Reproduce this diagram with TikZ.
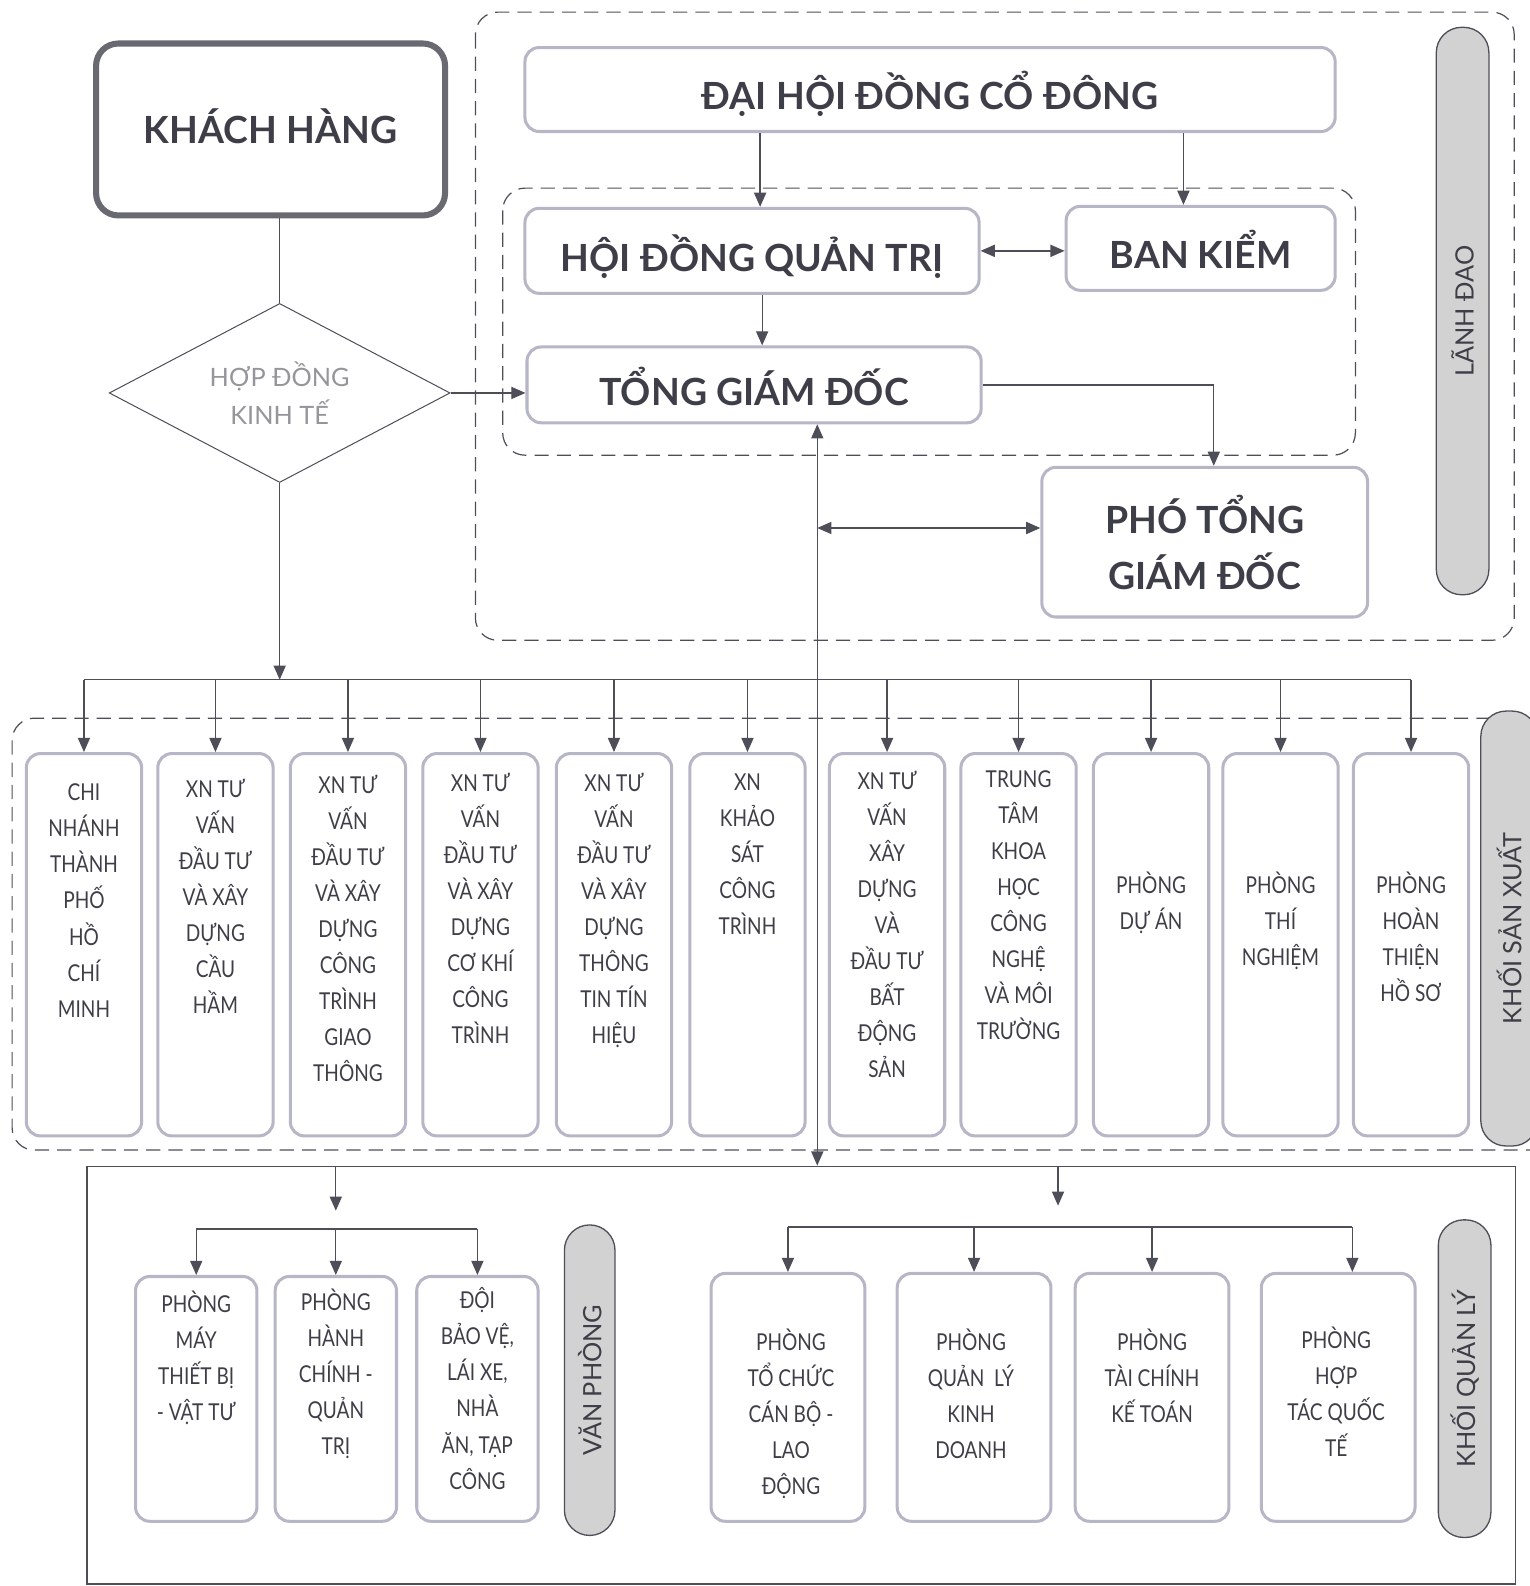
\documentclass[tikz,border=0pt]{standalone}
\usepackage{fontspec}
\setmainfont{Lato}
\newfontfamily\hepfont[FakeStretch=0.82]{Lato}
\usetikzlibrary{shapes,arrows.meta,positioning,calc,backgrounds,fit}
\definecolor{chu}{HTML}{3E3E48}
\definecolor{vien}{HTML}{B6B6C6}
\definecolor{net}{HTML}{4E4E58}

\begin{document}
\begin{tikzpicture}[x=1pt,y=-1pt]
  \tikzstyle{khung}=[rectangle, draw=vien, line width=3pt, rounded corners=14pt, inner sep=0pt]
  \tikzstyle{lon}=[khung, font=\fontsize{37}{55}\selectfont\bfseries, text=chu, align=center]
  \tikzstyle{motdong}=[text height=40pt, text depth=0pt]
  \tikzstyle{khach}=[lon, draw=net!85, line width=6pt, rounded corners=22pt, text height=28pt, text depth=0pt]
  \tikzstyle{hd}=[diamond, draw=net, line width=1pt, aspect=1.9, minimum width=337pt, minimum height=177pt, inner sep=0pt, align=center, text=chu!55, font=\fontsize{25}{38}\selectfont]
  \tikzstyle{dv}=[khung, minimum width=114pt, minimum height=378pt]
  \tikzstyle{vp}=[khung, minimum width=120pt, minimum height=242pt]
  \tikzstyle{ql}=[khung, minimum width=152pt, minimum height=245pt]
  \tikzstyle{nhan}=[anchor=north, inner sep=0pt, align=center, text=chu, font=\hepfont\fontsize{23}{35.6}\selectfont]
  \tikzstyle{thanh}=[rectangle, draw=net, fill=gray!35, line width=1.3pt, rounded corners=25pt, minimum height=52pt, inner sep=0pt, text=chu, font=\fontsize{25}{25}\selectfont]
  \tikzstyle{vung}=[draw=net, line width=1.2pt, dash pattern=on 14pt off 8pt, rounded corners=22pt]
  \tikzstyle{noi}=[draw=net, line width=1.3pt]
  \tikzstyle{ten}=[noi, -{Triangle[length=14pt,width=12pt]}]
  \tikzstyle{haiten}=[noi, {Triangle[length=14pt,width=12pt]}-{Triangle[length=14pt,width=12pt]}]

  \useasboundingbox (0,0) rectangle (1512,1568);

  % Khach hang
  \node[khach, minimum width=345pt, minimum height=170pt] (kh) at (267.5,128) {KHÁCH HÀNG};
  \node[hd] (hd) at (276.5,388.5) {HỢP ĐỒNG\\KINH TẾ};

  % Lanh dao
  \draw[vung] (470,12) rectangle (1497,633);
  \draw[vung] (497,186) rectangle (1340,450);
  \node[lon, motdong, minimum width=801pt, minimum height=83pt] (dh) at (919.5,88.5) {ĐẠI HỘI ĐỒNG CỔ ĐÔNG};
  \node[lon, motdong, minimum width=449pt, minimum height=84pt] (qt) at (743.5,248) {HỘI ĐỒNG QUẢN TRỊ};
  \node[lon, motdong, minimum width=266pt, minimum height=83pt] (bk) at (1187,245.5) {BAN KIỂM};
  \node[lon, motdong, minimum width=449pt, minimum height=75pt] (tgd) at (745.5,380.5) {TỔNG GIÁM ĐỐC};
  \node[lon, minimum width=322pt, minimum height=148pt] (ptgd) at (1191,536) {PHÓ TỔNG\\GIÁM ĐỐC};
  \node[thanh, rotate=90, minimum width=561pt] (ld) at (1446,307.5) {LÃNH ĐAO};

  % Khoi san xuat
  \draw[vung] (12,710) rectangle (1540,1137);
  \node[thanh, rotate=90, minimum width=430pt, minimum height=56pt] (sx) at (1492,918) {KHỐI SẢN XUẤT};
  \node[dv] (s1) at (83,934) {};
  \node[dv] (s2) at (213,934) {};
  \node[dv] (s3) at (344,934) {};
  \node[dv] (s4) at (475,934) {};
  \node[dv] (s5) at (607,934) {};
  \node[dv] (s6) at (739,934) {};
  \node[dv] (s7) at (877,934) {};
  \node[dv] (s8) at (1007,934) {};
  \node[dv] (s9) at (1138,934) {};
  \node[dv] (s10) at (1266,934) {};
  \node[dv] (s11) at (1395,934) {};
  \node[nhan] (n1) at (83,775) {CHI\\NHÁNH\\THÀNH\\PHỐ\\HỒ\\CHÍ\\MINH};
  \node[nhan] (n2) at (213,770) {XN TƯ\\VẤN\\ĐẦU TƯ\\VÀ XÂY\\DỰNG\\CẦU\\HẦM};
  \node[nhan] (n3) at (344,766) {XN TƯ\\VẤN\\ĐẦU TƯ\\VÀ XÂY\\DỰNG\\CÔNG\\TRÌNH\\GIAO\\THÔNG};
  \node[nhan] (n4) at (475,764) {XN TƯ\\VẤN\\ĐẦU TƯ\\VÀ XÂY\\DỰNG\\CƠ KHÍ\\CÔNG\\TRÌNH};
  \node[nhan] (n5) at (607,764) {XN TƯ\\VẤN\\ĐẦU TƯ\\VÀ XÂY\\DỰNG\\THÔNG\\TIN TÍN\\HIỆU};
  \node[nhan] (n6) at (739,765) {XN\\KHẢO\\SÁT\\CÔNG\\TRÌNH};
  \node[nhan] (n7) at (877,762) {XN TƯ\\VẤN\\XÂY\\DỰNG\\VÀ\\ĐẦU TƯ\\BẤT\\ĐỘNG\\SẢN};
  \node[nhan] (n8) at (1007,762) {TRUNG\\TÂM\\KHOA\\HỌC\\CÔNG\\NGHỆ\\VÀ MÔI\\TRƯỜNG};
  \node[nhan] (n9) at (1138,862) {PHÒNG\\DỰ ÁN};
  \node[nhan] (n10) at (1266,862) {PHÒNG\\THÍ\\NGHIỆM};
  \node[nhan] (n11) at (1395,862) {PHÒNG\\HOÀN\\THIỆN\\HỒ SƠ};

  % Khoi van phong va quan ly
  \node[draw=net, line width=1.3pt, minimum width=1412pt, minimum height=413pt, inner sep=0pt] (duoi) at (792,1359.5) {};
  \node[thanh, rotate=90, minimum width=307pt, minimum height=50pt] (vpt) at (583,1364.5) {VĂN PHÒNG};
  \node[vp] (v1) at (194,1383) {};
  \node[vp] (v2) at (332,1383) {};
  \node[vp] (v3) at (472,1383) {};
  \node[nhan] (m1) at (194,1276) {PHÒNG\\MÁY\\THIẾT BỊ\\- VẬT TƯ};
  \node[nhan] (m2) at (332,1274) {PHÒNG\\HÀNH\\CHÍNH -\\QUẢN\\TRỊ};
  \node[nhan] (m3) at (472,1273) {ĐỘI\\BẢO VỆ,\\LÁI XE,\\NHÀ\\ĂN, TẠP\\CÔNG};
  \node[thanh, rotate=90, minimum width=314pt] (qlt) at (1448,1363) {KHỐI QUẢN LÝ};
  \node[ql] (q1) at (779,1381.5) {};
  \node[ql] (q2) at (963,1381.5) {};
  \node[ql] (q3) at (1139,1381.5) {};
  \node[ql] (q4) at (1323,1381.5) {};
  \node[nhan] (p1) at (782,1314) {PHÒNG\\TỔ CHỨC\\CÁN BỘ -\\LAO\\ĐỘNG};
  \node[nhan] (p2) at (960,1314) {PHÒNG\\QUẢN \ LÝ\\KINH\\DOANH};
  \node[nhan] (p3) at (1139,1314) {PHÒNG\\TÀI CHÍNH\\KẾ TOÁN};
  \node[nhan] (p4) at (1321,1312) {PHÒNG\\HỢP\\TÁC QUỐC\\TẾ};

  % Diem phu
  \coordinate (truc) at (808,0);
  \coordinate (ngang) at (0,522);
  \coordinate (bus) at (0,672);
  \coordinate (vpvao) at (332,1197);
  \coordinate (vpbus) at (0,1215);
  \coordinate (qlvao) at (1046,1192);
  \coordinate (qlbus) at (0,1213);

  % Ket noi lanh dao
  \draw[noi] (hd.north |- kh.south) -- (hd.north);
  \draw[ten] (hd.east) -- (hd.east -| tgd.west);
  \draw[ten] ([xshift=8pt]qt.north |- dh.south) -- ([xshift=8pt]qt.north);
  \draw[ten] ([xshift=-17pt]bk.north |- dh.south) -- ([xshift=-17pt]bk.north);
  \draw[haiten] (qt.east) -- (qt.east -| bk.west);
  \draw[ten] ([xshift=10pt]qt.south) -- ([xshift=10pt]qt.south |- tgd.north);
  \draw[ten] (tgd.east) -| ([xshift=9pt]ptgd.north);
  \draw[haiten] (truc |- tgd.south) -- (truc |- duoi.north);
  \draw[haiten] (truc |- ngang) -- (ngang -| ptgd.west);

  % Ket noi san xuat
  \draw[ten] (hd.south) -- (hd.south |- bus);
  \draw[noi] (s1.north |- bus) -- (s11.north |- bus);
  \draw[ten] (s1.north |- bus) -- (s1.north);
  \draw[ten] (s2.north |- bus) -- (s2.north);
  \draw[ten] (s3.north |- bus) -- (s3.north);
  \draw[ten] (s4.north |- bus) -- (s4.north);
  \draw[ten] (s5.north |- bus) -- (s5.north);
  \draw[ten] (s6.north |- bus) -- (s6.north);
  \draw[ten] (s7.north |- bus) -- (s7.north);
  \draw[ten] (s8.north |- bus) -- (s8.north);
  \draw[ten] (s9.north |- bus) -- (s9.north);
  \draw[ten] (s10.north |- bus) -- (s10.north);
  \draw[ten] (s11.north |- bus) -- (s11.north);

  % Ket noi van phong
  \draw[ten] (vpvao |- duoi.north) -- (vpvao);
  \draw[noi] (v1.north |- vpbus) -- (v3.north |- vpbus);
  \draw[ten] (v1.north |- vpbus) -- (v1.north);
  \draw[ten] (v2.north |- vpbus) -- (v2.north);
  \draw[ten] (v3.north |- vpbus) -- (v3.north);

  % Ket noi quan ly
  \draw[ten] (qlvao |- duoi.north) -- (qlvao);
  \draw[noi] (q1.north |- qlbus) -- ([xshift=14pt]q4.north |- qlbus);
  \draw[ten] (q1.north |- qlbus) -- (q1.north);
  \draw[ten] (q2.north |- qlbus) -- (q2.north);
  \draw[ten] (q3.north |- qlbus) -- (q3.north);
  \draw[ten] ([xshift=14pt]q4.north |- qlbus) -- ([xshift=14pt]q4.north);
\end{tikzpicture}
\end{document}
